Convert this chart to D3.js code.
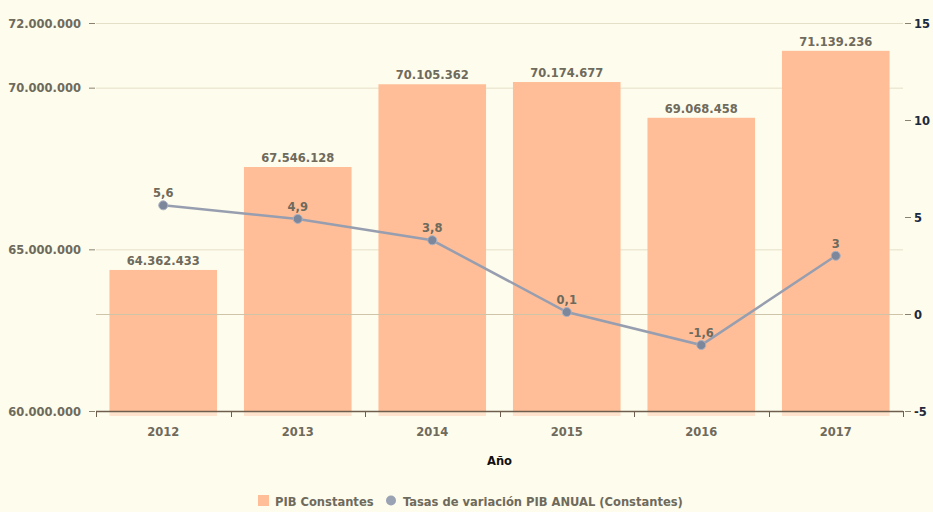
<!DOCTYPE html>
<html>
<head>
<meta charset="utf-8">
<script src="https://cdn.jsdelivr.net/npm/d3@7"></script>
<style>
  body { margin: 0; background: #fefcec; }
  svg { display: block; }
  text { font-family: "DejaVu Sans Condensed", "DejaVu Sans", sans-serif; font-weight: bold; }
</style>
</head>
<body>
<div id="chart"></div>
<script>
// Data
var years = ["2012", "2013", "2014", "2015", "2016", "2017"];
var pib = [64362433, 67546128, 70105362, 70174677, 69068458, 71139236];
var tasas = [5.6, 4.9, 3.8, 0.1, -1.6, 3];
var leftTicks = [60000000, 65000000, 70000000, 72000000];
var rightTicks = [-5, 0, 5, 10, 15];

var width = 933, height = 512;
var plot = { left: 96, right: 903, top: 23, bottom: 411 };
var fs = "12.8px";

var locale = d3.formatLocale({ decimal: ",", thousands: ".", grouping: [3], currency: ["", ""] });
var fmtInt = locale.format(",d");
var fmtDec = function (v) { return String(v).replace(".", ","); };

var svg = d3.select("#chart").append("svg")
    .attr("width", width)
    .attr("height", height);

svg.append("rect").attr("width", width).attr("height", height).attr("fill", "#fefcec");

// Scales
var x = d3.scaleBand().domain(years).range([plot.left, plot.right]).padding(0);
var yLeft = d3.scaleLinear().domain([60000000, 72000000]).range([plot.bottom, plot.top]);
var yRight = d3.scaleLinear().domain([-5, 15]).range([plot.bottom, plot.top]);

// Grid lines
svg.append("g").selectAll("line")
    .data(leftTicks.filter(function (d) { return d > 60000000; }))
    .enter().append("line")
    .attr("x1", plot.left).attr("x2", plot.right)
    .attr("y1", function (d) { return yLeft(d) + 0.5; })
    .attr("y2", function (d) { return yLeft(d) + 0.5; })
    .attr("stroke", "#e4e0c8").attr("stroke-width", 1);

// Bars
var barPad = x.bandwidth() * 0.1;
var bars = svg.append("g");
bars.selectAll("rect")
    .data(pib)
    .enter().append("rect")
    .attr("x", function (d, i) { return x(years[i]) + barPad; })
    .attr("y", function (d) { return yLeft(d); })
    .attr("width", x.bandwidth() - 2 * barPad)
    .attr("height", function (d) { return plot.bottom - yLeft(d); })
    .attr("fill", "#ffbe98");

// soft shadow under bars below the axis
bars.selectAll(".shadow")
    .data(pib)
    .enter().append("rect")
    .attr("class", "shadow")
    .attr("x", function (d, i) { return x(years[i]) + barPad; })
    .attr("y", plot.bottom)
    .attr("width", x.bandwidth() - 2 * barPad)
    .attr("height", 5)
    .attr("fill", "#ffe3cc");

// zero line of right axis
svg.append("line")
    .attr("x1", plot.left).attr("x2", plot.right)
    .attr("y1", yRight(0) + 0.5).attr("y2", yRight(0) + 0.5)
    .attr("stroke", "#cfc4a8").attr("stroke-width", 1);

// Bar labels
svg.append("g").selectAll("text")
    .data(pib)
    .enter().append("text")
    .attr("x", function (d, i) { return x(years[i]) + x.bandwidth() / 2; })
    .attr("y", function (d) { return yLeft(d) - 5; })
    .attr("text-anchor", "middle")
    .attr("font-size", fs)
    .attr("fill", "#6e6a5c")
    .text(function (d) { return fmtInt(d); });

// Line series
var line = d3.line()
    .x(function (d, i) { return x(years[i]) + x.bandwidth() / 2; })
    .y(function (d) { return yRight(d); });

svg.append("path")
    .datum(tasas)
    .attr("d", line)
    .attr("fill", "none")
    .attr("stroke", "#979eb0")
    .attr("stroke-width", 2.5);

svg.append("g").selectAll("circle")
    .data(tasas)
    .enter().append("circle")
    .attr("cx", function (d, i) { return x(years[i]) + x.bandwidth() / 2; })
    .attr("cy", function (d) { return yRight(d); })
    .attr("r", 4.5)
    .attr("fill", "#7d879c")
    .attr("stroke", "#a9b0c0")
    .attr("stroke-width", 1);

svg.append("g").selectAll("text")
    .data(tasas)
    .enter().append("text")
    .attr("x", function (d, i) { return x(years[i]) + x.bandwidth() / 2; })
    .attr("y", function (d) { return yRight(d) - 8; })
    .attr("text-anchor", "middle")
    .attr("font-size", fs)
    .attr("fill", "#6e6a5c")
    .text(function (d) { return fmtDec(d); });

// Left axis
var leftAxis = svg.append("g")
    .attr("transform", "translate(" + plot.left + ",0)")
    .call(d3.axisLeft(yLeft).tickValues(leftTicks).tickFormat(fmtInt).tickSize(6).tickPadding(9));
leftAxis.select(".domain").remove();
leftAxis.selectAll(".tick line").attr("stroke", "#8a8270").attr("transform", "translate(-1,0)");
leftAxis.selectAll(".tick text")
    .attr("font-family", null).attr("font-size", fs).attr("fill", "#6e6a5c");

// Right axis
var rightAxis = svg.append("g")
    .attr("transform", "translate(" + (plot.right + 1) + ",0)")
    .call(d3.axisRight(yRight).tickValues(rightTicks).tickFormat(fmtDec).tickSize(6).tickPadding(4));
rightAxis.select(".domain").remove();
rightAxis.selectAll(".tick line").attr("stroke", "#8a8270").attr("transform", "translate(1,0)");
rightAxis.selectAll(".tick text")
    .attr("font-family", null).attr("font-size", fs).attr("fill", "#1d2a3e");

// Bottom axis, ticks at category boundaries
var bottom = svg.append("g").attr("transform", "translate(0," + plot.bottom + ")");
bottom.append("line")
    .attr("x1", plot.left).attr("x2", plot.right)
    .attr("y1", 0.5).attr("y2", 0.5)
    .attr("stroke", "#6e5e4e").attr("stroke-width", 1.5);
bottom.selectAll(".sep")
    .data(years.concat(["end"]))
    .enter().append("line")
    .attr("class", "sep")
    .attr("x1", function (d, i) { return Math.round(plot.left + i * x.step()) + 0.5; })
    .attr("x2", function (d, i) { return Math.round(plot.left + i * x.step()) + 0.5; })
    .attr("y1", 0).attr("y2", 6)
    .attr("stroke", "#6e5e4e");
bottom.selectAll(".lbl")
    .data(years)
    .enter().append("text")
    .attr("class", "lbl")
    .attr("x", function (d) { return x(d) + x.bandwidth() / 2; })
    .attr("y", 25)
    .attr("text-anchor", "middle")
    .attr("font-size", fs)
    .attr("fill", "#6e6a5c")
    .text(function (d) { return d; });

svg.append("text")
    .attr("x", (plot.left + plot.right) / 2)
    .attr("y", 465)
    .attr("text-anchor", "middle")
    .attr("font-size", fs)
    .attr("fill", "#111")
    .text("Año");

// Legend
var legend = svg.append("g").attr("transform", "translate(0,506)");
legend.append("rect")
    .attr("x", 258).attr("y", -11).attr("width", 11).attr("height", 11)
    .attr("fill", "#ffbe98");
legend.append("text")
    .attr("x", 275).attr("y", 0)
    .attr("font-size", fs).attr("fill", "#6e6a5c")
    .text("PIB Constantes");
legend.append("circle")
    .attr("cx", 391).attr("cy", -5.5).attr("r", 5)
    .attr("fill", "#9aa3b4");
legend.append("text")
    .attr("x", 403).attr("y", 0)
    .attr("font-size", fs).attr("fill", "#6e6a5c")
    .text("Tasas de variación PIB ANUAL (Constantes)");
</script>
</body>
</html>
